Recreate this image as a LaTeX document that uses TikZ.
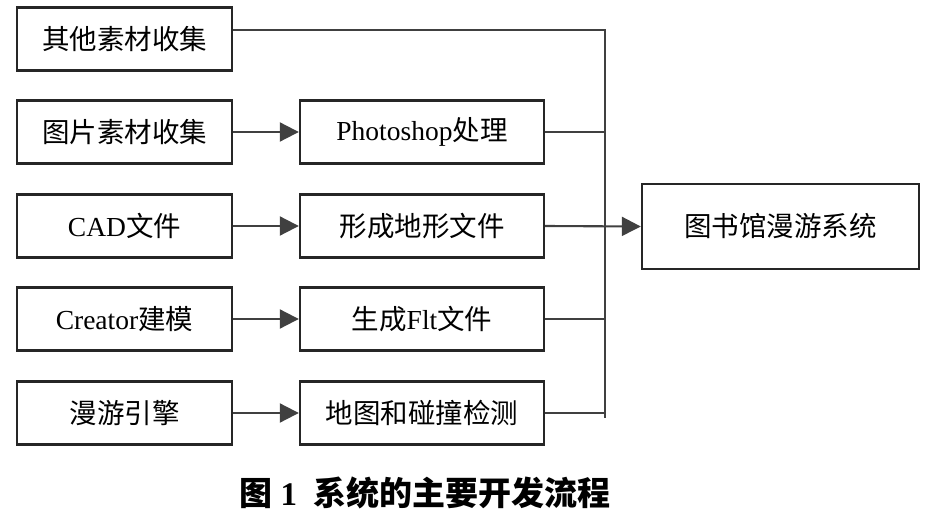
\documentclass[tikz,border=0pt]{standalone}
\usepackage{fontspec}
\setmainfont{Liberation Serif}
\newfontfamily\cjk{Noto Sans CJK SC}
\usetikzlibrary{arrows.meta}
\begin{document}
\begin{tikzpicture}[x=1pt,y=-1pt,
  box/.style={draw=black!85,line width=2.4pt,rectangle,inner sep=0pt,font=\fontsize{27.5}{32}\selectfont},
  lbox/.style={box,minimum width=215pt,minimum height=63pt},
  mbox/.style={box,minimum width=244pt,minimum height=63pt},
  link/.style={draw=black!75,line width=2.1pt},
  arr/.style={link,-{Triangle[length=19pt,width=19pt]}}
]
\useasboundingbox (0,0) rectangle (929,513);
% left column
\node[lbox] (l1) at (124.5,39) {\cjk 其他素材收集};
\node[lbox] (l2) at (124.5,132) {\cjk 图片素材收集};
\node[lbox] (l3) at (124.5,226) {CAD{\cjk 文件}};
\node[lbox] (l4) at (124.5,319) {Creator{\cjk 建模}};
\node[lbox] (l5) at (124.5,413) {\cjk 漫游引擎};
% middle column
\node[mbox] (m2) at (422,132) {Photoshop{\cjk 处理}};
\node[mbox] (m3) at (422,226) {\cjk 形成地形文件};
\node[mbox] (m4) at (422,319) {{\cjk 生成}Flt{\cjk 文件}};
\node[mbox] (m5) at (422,413) {\cjk 地图和碰撞检测};
% target
\node[box,minimum width=277pt,minimum height=85pt] (r) at (780.5,226.5) {\cjk 图书馆漫游系统};
% arrows left -> middle
\draw[arr] (l2) -- (m2);
\draw[arr] (l3) -- (m3);
\draw[arr] (l4) -- (m4);
\draw[arr] (l5) -- (m5);
% bus
\coordinate (top) at (605,30);
\coordinate (bot) at (605,418);
\draw[link] (l1.east |- top) -- (top) -- (bot);
\draw[link] (m2.east) -- (m2.east -| top);
\draw[link] (m4.east) -- (m4.east -| top);
\draw[link] (m5.east) -- (m5.east -| top);
\draw[arr] (m3.east) -- (r.west);
% caption
\node[font=\fontsize{33}{38}\selectfont\bfseries] (cap) at (425,493) {{\cjk 图}~1~~{\cjk 系统的主要开发流程}};
\end{tikzpicture}
\end{document}
